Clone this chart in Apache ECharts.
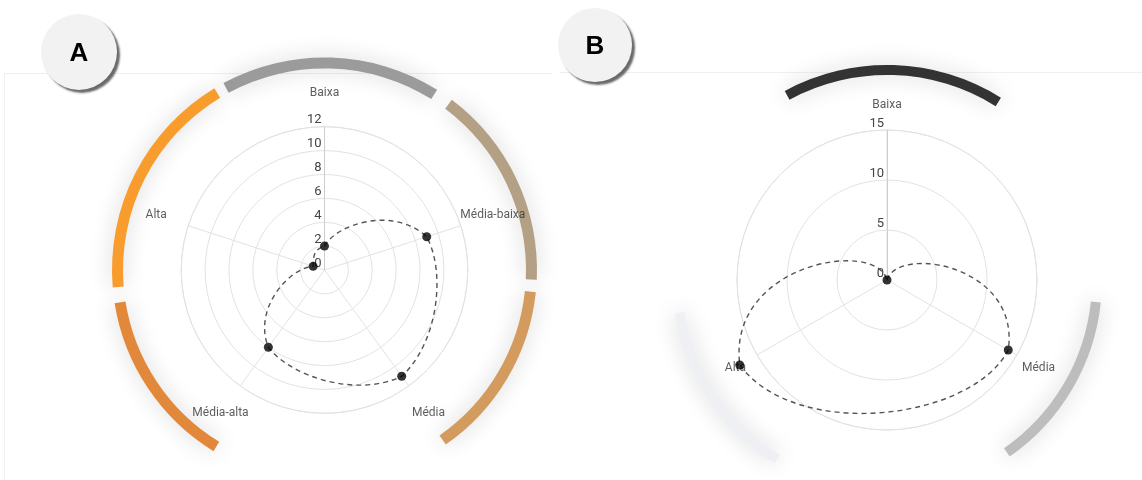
<!DOCTYPE html>
<html><head><meta charset="utf-8">
<script src="https://cdn.jsdelivr.net/npm/echarts@6/dist/echarts.min.js"></script>
<style>html,body{margin:0;padding:0;background:#fff}#c{width:1142px;height:480px}</style>
</head><body><div id="c"></div>
<script>
// ---- data ----
const categoriesA = ['Baixa', 'Média-baixa', 'Média', 'Média-alta', 'Alta'];
const valuesA = [2, 9, 11, 8, 1];
const radiusTicksA = [0, 2, 4, 6, 8, 10, 12];

const categoriesB = ['Baixa', 'Média', 'Alta'];
const valuesB = [0, 14, 17];
const radiusTicksB = [0, 5, 10, 15];

// outer ring: six slots, clockwise from the top (empty string = no arc)
const ringSlotsA = ['Baixa', 'Média-baixa', 'Média', '', 'Média-alta', 'Alta'];
const ringSlotsB = ['Baixa', '', 'Média', '', 'Alta', ''];
const panelLetters = ['A', 'B'];

// ---- styles / layout ----
// angular extent (degrees clockwise from the top) of each ring slot
const ringArcs = [[-28.4, 32], [36.8, 92.6], [96, 145.2], null, [211.5, 261], [265.3, 328.8]];
const ringColorsA = {'Baixa': '#9b9b9b', 'Média-baixa': '#b4a085', 'Média': '#d49b5e', 'Média-alta': '#e2883a', 'Alta': '#f99c2e'};
const ringColorsB = {'Baixa': '#333333', 'Média': '#bdbdbd', 'Alta': '#eef0f4'};
const panels = [
  {cats: categoriesA, vals: valuesA, ticks: radiusTicksA, slots: ringSlotsA, colors: ringColorsA,
   center: [324.5, 270], radius: 143.3, ring: [201.5, 212.5], labelR: 177, badge: [79, 52], badgeR: 38},
  {cats: categoriesB, vals: valuesB, ticks: radiusTicksB, slots: ringSlotsB, colors: ringColorsB,
   center: [887, 280], radius: 150, ring: [205, 215], labelR: 175, badge: [595, 45], badgeR: 37}
];
const FONT = 'Roboto, "Noto Sans", sans-serif';
const GRID = '#e2e2e2';
const W = 0.75; // weight of polar-space interpolation in the smoothed curve
const CLEAR = {color: 'rgba(0,0,0,0)'};

function ringData(slots, colors) {
  const out = [];
  const first = ringArcs[0][0];
  let cur = first;
  ringArcs.forEach((arc, k) => {
    if (!arc) return;
    if (arc[0] > cur) out.push({name: ' ', value: arc[0] - cur, itemStyle: CLEAR});
    const s = slots[k];
    out.push({name: s || ' ', value: arc[1] - arc[0],
      itemStyle: s ? {color: colors[s], shadowBlur: 22, shadowColor: 'rgba(0,0,0,0.17)'} : CLEAR});
    cur = arc[1];
  });
  out.push({name: ' ', value: first + 360 - cur, itemStyle: CLEAR});
  return out;
}

function curveSeries(pi, vals, step) {
  return {
    type: 'custom', coordinateSystem: 'polar', polarIndex: pi, clip: false, silent: true, z: 4,
    data: vals.map((v, i) => [v, i * step]),
    renderItem: function (params, api) {
      if (params.dataIndex !== 0) return null;
      const n = vals.length;
      const c = api.coord([0, 0]);
      const P = vals.map((v, i) => api.coord([v, i * step]));
      const R = P.map(p => Math.hypot(p[0] - c[0], p[1] - c[1]));
      const dphi = step * Math.PI / 180;
      const ur = a => { const q = api.coord([1, a]); const L = Math.hypot(q[0] - c[0], q[1] - c[1]); return [(q[0] - c[0]) / L, (q[1] - c[1]) / L]; };
      const tcr = i => { const a = P[(i + 1) % n], b = P[(i - 1 + n) % n]; return [(a[0] - b[0]) / 2, (a[1] - b[1]) / 2]; };
      let d = 'M' + P[0][0].toFixed(2) + ' ' + P[0][1].toFixed(2);
      for (let i = 0; i < n; i++) {
        const j = (i + 1) % n;
        const ai = i * step, aj = (i + 1) * step;
        const dR = R[j] - R[i];
        const u0 = ur(ai), u1 = ur(aj);
        const t0 = [-u0[1], u0[0]], t1 = [-u1[1], u1[0]];
        const tp0 = [dR * u0[0] + R[i] * dphi * t0[0], dR * u0[1] + R[i] * dphi * t0[1]];
        const tp1 = [dR * u1[0] + R[j] * dphi * t1[0], dR * u1[1] + R[j] * dphi * t1[1]];
        const tc0 = tcr(i), tc1 = tcr(j);
        const T0 = [W * tp0[0] + (1 - W) * tc0[0], W * tp0[1] + (1 - W) * tc0[1]];
        const T1 = [W * tp1[0] + (1 - W) * tc1[0], W * tp1[1] + (1 - W) * tc1[1]];
        const c1 = [P[i][0] + T0[0] / 3, P[i][1] + T0[1] / 3];
        const c2 = [P[j][0] - T1[0] / 3, P[j][1] - T1[1] / 3];
        d += ' C' + [c1[0], c1[1], c2[0], c2[1], P[j][0], P[j][1]].map(x => x.toFixed(2)).join(' ');
      }
      d += ' Z';
      return {type: 'path', shape: {pathData: d}, style: {fill: null, stroke: '#555', lineWidth: 1.4, lineDash: [5, 4]}};
    }
  };
}

const option = {animation: false, polar: [], angleAxis: [], radiusAxis: [], series: [], graphic: []};

// faint card edges
const edge = {stroke: '#f0f0f0', lineWidth: 1};
option.graphic.push({type: 'polyline', silent: true, z: -10, shape: {points: [[4.5, 480], [4.5, 73.5], [552, 73.5]]}, style: edge});
option.graphic.push({type: 'line', silent: true, z: -10, shape: {x1: 560, y1: 72.5, x2: 1142, y2: 72.5}, style: edge});

panels.forEach((p, pi) => {
  const n = p.cats.length, step = 360 / n;
  const rmin = p.ticks[0], rmax = p.ticks[p.ticks.length - 1], rint = p.ticks[1] - p.ticks[0];
  option.polar.push({center: p.center, radius: p.radius});
  option.angleAxis.push({
    polarIndex: pi, type: 'value', min: 0, max: 360, interval: step, startAngle: 90, clockwise: true,
    axisLine: {lineStyle: {color: GRID, width: 1}}, axisTick: {show: false}, axisLabel: {show: false},
    splitLine: {show: true, lineStyle: {color: GRID, width: 1}}
  });
  option.radiusAxis.push({
    polarIndex: pi, type: 'value', min: rmin, max: rmax, interval: rint,
    axisLine: {show: true, lineStyle: {color: '#cdcdcd', width: 1}}, axisTick: {show: false},
    axisLabel: {color: '#444', fontSize: 13, fontFamily: FONT, margin: 3, verticalAlign: 'bottom'},
    splitLine: {show: true, lineStyle: {color: GRID, width: 1}}
  });
  // outer coloured ring
  option.series.push({
    type: 'pie', center: p.center, radius: p.ring, startAngle: 90 - ringArcs[0][0], clockwise: true, padAngle: 0,
    silent: true, z: 1, label: {show: false}, labelLine: {show: false}, emphasis: {disabled: true},
    data: ringData(p.slots, p.colors)
  });
  // category labels
  const labelValue = rmax * p.labelR / p.radius;
  option.series.push({
    type: 'scatter', coordinateSystem: 'polar', polarIndex: pi, clip: false, silent: true, z: 3,
    symbolSize: 0, data: p.cats.map((c, i) => [labelValue, i * step]),
    label: {show: true, position: 'inside', formatter: q => p.cats[q.dataIndex], color: '#333', fontSize: 12, fontFamily: FONT}
  });
  option.series.push(curveSeries(pi, p.vals, step));
  option.series.push({
    type: 'scatter', coordinateSystem: 'polar', polarIndex: pi, clip: false, silent: true, z: 5,
    symbol: 'circle', symbolSize: 9, itemStyle: {color: '#000'},
    data: p.vals.map((v, i) => [v, i * step])
  });
  // panel badge
  option.graphic.push({
    type: 'group', silent: true, z: 10, children: [
      {type: 'circle', shape: {cx: p.badge[0], cy: p.badge[1], r: p.badgeR},
       style: {fill: '#f2f2f2', shadowColor: 'rgba(80,80,80,0.85)', shadowBlur: 2, shadowOffsetX: 3, shadowOffsetY: 3}},
      {type: 'text', x: p.badge[0], y: p.badge[1] + 2,
       style: {text: panelLetters[pi], fill: '#000', font: 'bold 26px "Liberation Sans", Arial, sans-serif', align: 'center', verticalAlign: 'middle'}}
    ]
  });
});

const chart = echarts.init(document.getElementById('c'));
chart.setOption(option);
</script></body></html>
